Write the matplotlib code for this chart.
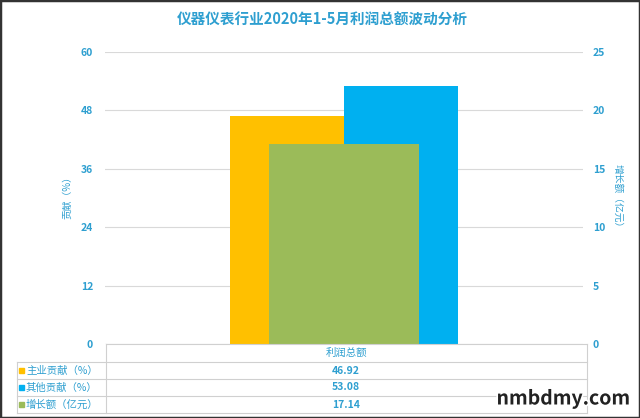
import matplotlib.pyplot as plt
import matplotlib.patheffects as pe
from matplotlib.lines import Line2D
from matplotlib.patches import Rectangle

plt.rcParams['font.family'] = ['Noto Sans CJK SC', 'DejaVu Sans']

category = '利润总额'
series_names = ['主业贡献（%）', '其他贡献（%）', '增长额（亿元）']
values = [46.92, 53.08, 17.14]
colors = ['#FFC000', '#00B0F0', '#9BBB59']
left_ticks = [0, 12, 24, 36, 48, 60]
right_ticks = [0, 5, 10, 15, 20, 25]

txt = '#2E9FD0'
W, H = 640, 418

fig = plt.figure(figsize=(6.4, 4.18), dpi=100)
ax = fig.add_axes([105 / W, 1 - 344 / H, 478 / W, 292 / H])
ax2 = ax.twinx()

bw = 0.2385
ax.bar(-bw / 2, values[0], width=bw, color=colors[0], zorder=2)
ax.bar(bw / 2, values[1], width=bw, color=colors[1], zorder=2)
ax2.bar(0, values[2], width=0.312, color=colors[2], zorder=3)

ax.set_xlim(-0.5, 0.5)
ax.set_ylim(0, 60)
ax2.set_ylim(0, 25)
ax.set_yticks(left_ticks)
ax2.set_yticks(right_ticks)
ax.set_xticks([])
ax.grid(axis='y', color='#D9D9D9', linewidth=0.8, zorder=0)
for a in (ax, ax2):
    for s in a.spines.values():
        s.set_visible(False)
    a.tick_params(length=0, labelsize=7.5, labelcolor=txt)
ax.tick_params(pad=8.5)
ax2.tick_params(pad=7)
for lbl in ax.get_yticklabels() + ax2.get_yticklabels():
    lbl.set_fontweight('bold')
ax.set_ylabel('贡献（%）', color=txt, fontsize=7)
ax2.set_ylabel('增长额（亿元）', color=txt, fontsize=7, rotation=270, va='center')
ax.yaxis.set_label_coords(-0.069, 0.51)
ax2.yaxis.set_label_coords(1.073, 0.50)

fig.text(322 / W, 1 - 20 / H, '仪器仪表行业2020年1-5月利润总额波动分析',
         ha='center', va='center', fontsize=10.5, color=txt, fontweight='bold')

# data table
def fx(x):
    return x / W

def fy(y):
    return 1 - y / H

lc = '#D0D0D0'
rows_y = [344, 362, 379, 396, 413]
fig.add_artist(Line2D([fx(106), fx(587)], [fy(344), fy(344)], color=lc, lw=0.8))
for y in rows_y[1:]:
    fig.add_artist(Line2D([fx(17), fx(587)], [fy(y), fy(y)], color=lc, lw=0.8))
fig.add_artist(Line2D([fx(17), fx(17)], [fy(362), fy(413)], color=lc, lw=0.8))
fig.add_artist(Line2D([fx(106), fx(106)], [fy(344), fy(413)], color=lc, lw=0.8))
fig.add_artist(Line2D([fx(587), fx(587)], [fy(344), fy(413)], color=lc, lw=0.8))
fig.text(fx(346), fy(353), category, ha='center', va='center', fontsize=7.5, color=txt)
for i, (name, v, c) in enumerate(zip(series_names, values, colors)):
    yc = (rows_y[i + 1] + rows_y[i + 2]) / 2
    fig.add_artist(Rectangle((fx(19), fy(yc + 2.5)), 5 / W, 5 / H, color=c))
    fig.text(fx(26), fy(yc), name, ha='left', va='center', fontsize=7.5, color=txt)
    fig.text(fx(346), fy(yc), f'{v:.2f}', ha='center', va='center', fontsize=7.5,
             color=txt, fontweight='bold')

# frame and watermark
fig.add_artist(Rectangle((0, 0), 1, 1, fill=False, edgecolor='#333333', lw=2.5,
                         transform=fig.transFigure))
fig.text(fx(630), fy(399), 'nmbdmy.com', ha='right', va='center', fontsize=14,
         color='#222222', fontweight='bold',
         path_effects=[pe.withStroke(linewidth=2.5, foreground='white')])

fig.savefig('out.png', dpi=100)
